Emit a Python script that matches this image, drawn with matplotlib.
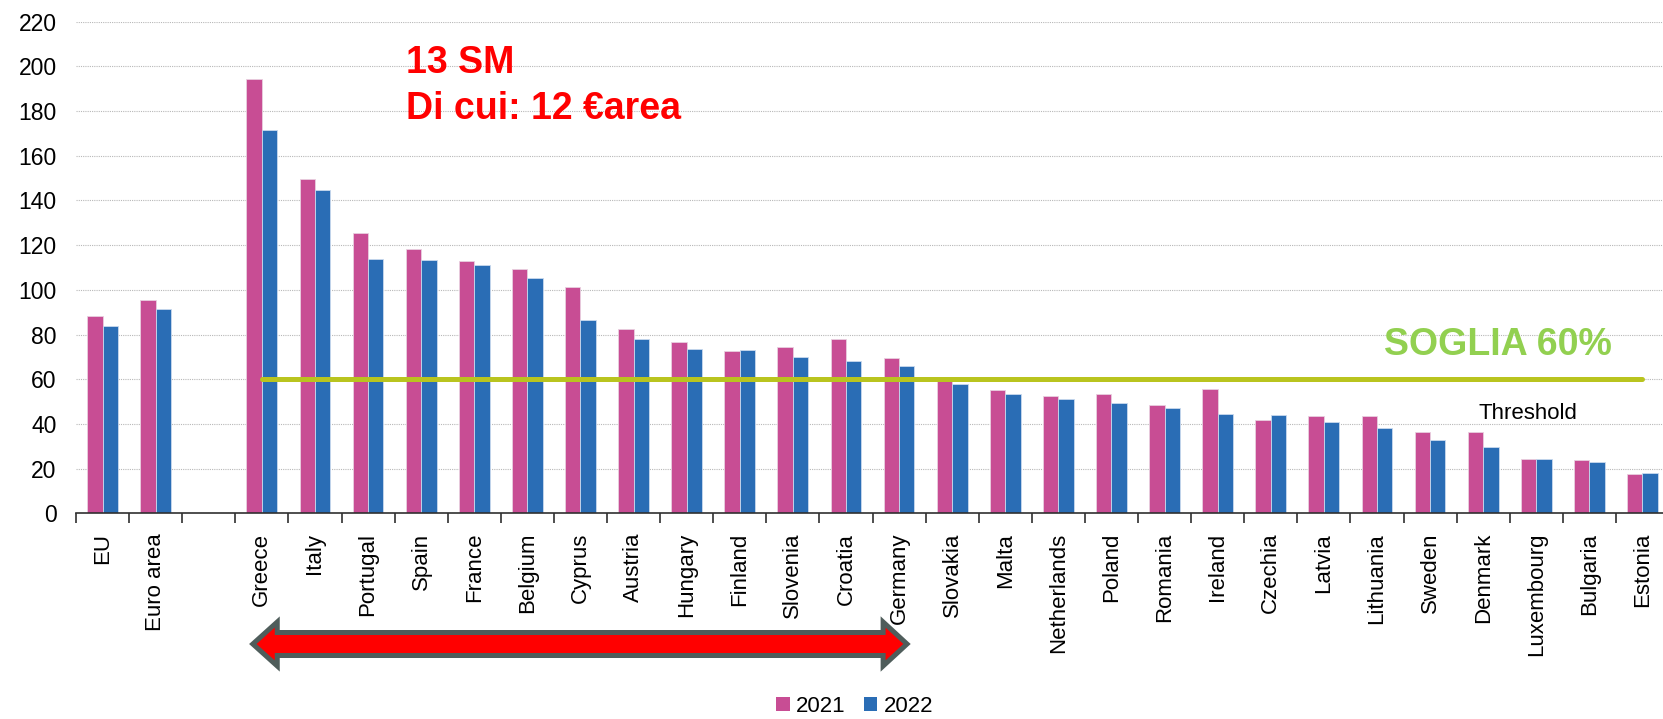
import numpy as np
import matplotlib
matplotlib.use('Agg')
import matplotlib.pyplot as plt
from matplotlib.patches import Polygon, Patch
from matplotlib.transforms import blended_transform_factory

plt.rcParams['font.family'] = ['Liberation Sans', 'DejaVu Sans']

# categories (blank slot separates aggregates from countries)
countries = ['EU', 'Euro area', '', 'Greece', 'Italy', 'Portugal', 'Spain', 'France', 'Belgium',
             'Cyprus', 'Austria', 'Hungary', 'Finland', 'Slovenia', 'Croatia', 'Germany',
             'Slovakia', 'Malta', 'Netherlands', 'Poland', 'Romania', 'Ireland', 'Czechia',
             'Latvia', 'Lithuania', 'Sweden', 'Denmark', 'Luxembourg', 'Bulgaria', 'Estonia']
debt_2021 = [88.2, 95.5, np.nan, 194.3, 149.7, 125.5, 118.2, 112.8, 109.3,
             101.3, 82.4, 76.6, 72.5, 74.5, 78.2, 69.3,
             59.0, 55.1, 52.4, 53.4, 48.7, 55.5, 41.9,
             43.4, 43.4, 36.6, 36.6, 24.5, 23.9, 17.6]
debt_2022 = [84.0, 91.3, np.nan, 171.3, 144.5, 114.0, 113.4, 111.3, 105.1,
             86.6, 78.2, 73.4, 73.0, 69.9, 68.2, 66.1,
             57.8, 53.4, 51.0, 49.3, 47.0, 44.5, 43.9,
             40.7, 38.2, 33.0, 29.9, 24.5, 22.8, 18.2]
threshold = 60
years = ['2021', '2022']

c21 = '#C84D94'
c22 = '#2A6DB5'

fig = plt.figure(figsize=(16.63, 7.19), dpi=100)
ax = fig.add_axes([76 / 1663, 0.286, 1593 / 1663, 0.684])

x = np.arange(len(countries))
w = 0.29
ax.bar(x - w / 2, debt_2021, w, color=c21, edgecolor='#E8D0DF', linewidth=0.6, zorder=2)
ax.bar(x + w / 2, debt_2022, w, color=c22, edgecolor='#C9D9EE', linewidth=0.6, zorder=2)

# 60% threshold line
ax.plot([3, len(countries) - 1], [threshold, threshold], color='#B9C41F', lw=3.6,
        solid_capstyle='round', zorder=3)

ax.set_xlim(-0.5, len(countries) - 0.5)
ax.set_ylim(0, 220)
ax.set_yticks(np.arange(0, 221, 20))
ax.yaxis.grid(True, color='#B8B8B8', linestyle=(0, (1, 1)), linewidth=0.8, zorder=0)
ax.tick_params(axis='y', length=0, pad=14, labelsize=16.5)

ax.set_xticks(x)
ax.set_xticklabels(countries, rotation=90, fontsize=16)
ax.set_xticks(np.arange(-0.5, len(countries), 1), minor=True)
ax.tick_params(axis='x', which='major', length=0, pad=14)
ax.tick_params(axis='x', which='minor', length=7, width=1.2, direction='out', color='#303030')

for s in ['top', 'right', 'left']:
    ax.spines[s].set_visible(False)
ax.spines['bottom'].set_color('#303030')
ax.spines['bottom'].set_linewidth(1.2)

# annotations
ax.text(5.72, 196.9, '13 SM', color='red', fontsize=27, fontweight='bold', va='baseline')
ax.text(5.72, 176.2, 'Di cui: 12 €area', color='red', fontsize=27, fontweight='bold', va='baseline')
ax.text(24.13, 70.9, 'SOGLIA 60%', color='#92D050', fontsize=27, fontweight='bold', va='baseline')
ax.text(25.92, 42.1, 'Threshold', color='black', fontsize=16, va='baseline')

# double-headed red arrow spanning the 13 member states
tr = blended_transform_factory(ax.transData, fig.transFigure)
yc = 1 - 644 / 719
hh = 22 / 719
sh = 11.5 / 719
xl, xr = 2.83, 15.15
bl, br = 3.29, 14.70
pts = [(xl, yc), (bl, yc + hh), (bl, yc + sh), (br, yc + sh), (br, yc + hh), (xr, yc),
       (br, yc - hh), (br, yc - sh), (bl, yc - sh), (bl, yc - hh)]
arrow = Polygon(pts, closed=True, facecolor='#FF0000', edgecolor='#4F5D5B', linewidth=3.6,
                joinstyle='miter', transform=tr, clip_on=False, zorder=5)
ax.add_patch(arrow)

handles = [Patch(facecolor=c21), Patch(facecolor=c22)]
fig.legend(handles, years, loc='center', bbox_to_anchor=(0.514, 0.017), ncol=2, frameon=False,
           fontsize=16, handlelength=0.6, handleheight=0.6, handletextpad=0.3, columnspacing=0.8)

fig.savefig('out.png', dpi=100)
